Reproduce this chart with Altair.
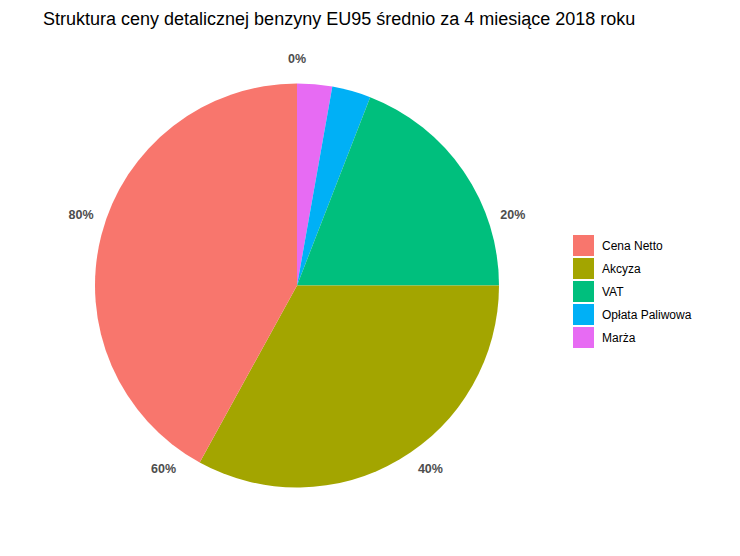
import altair as alt
import pandas as pd

# slice data, clockwise from 12 o'clock
categories = ["Marża", "Opłata Paliwowa", "VAT", "Akcyza", "Cena Netto"]
shares = [2.8, 3.1, 19.1, 33.0, 42.0]

# legend order and colours (ggplot default hue palette)
legend_order = ["Cena Netto", "Akcyza", "VAT", "Opłata Paliwowa", "Marża"]
colors = ["#F8766D", "#A3A500", "#00BF7D", "#00B0F6", "#E76BF3"]

# polar axis ticks
tick_values = [0, 20, 40, 60, 80]
tick_labels = ["0%", "20%", "40%", "60%", "80%"]

title_text = "Struktura ceny detalicznej benzyny EU95 średnio za 4 miesiące 2018 roku"

slices = pd.DataFrame({
    "kategoria": categories,
    "udzial": shares,
    "kolejnosc": list(range(len(categories))),
})
ticks = pd.DataFrame({"wartosc": tick_values, "etykieta": tick_labels})

theta_scale = alt.Scale(domain=[0, 100])

pie = alt.Chart(slices).mark_arc(radius=202, strokeWidth=0).encode(
    theta=alt.Theta("udzial:Q", stack=True, scale=theta_scale),
    color=alt.Color(
        "kategoria:N",
        scale=alt.Scale(domain=legend_order, range=colors),
        sort=legend_order,
        legend=alt.Legend(
            title=None,
            orient="none",
            legendX=565,
            legendY=197,
            symbolType="square",
            symbolSize=441,
            symbolStrokeWidth=0,
            symbolOpacity=1,
            labelFontSize=12,
            labelFont="Liberation Sans",
            labelColor="#000000",
            labelOffset=8,
            rowPadding=2,
            padding=0,
        ),
    ),
    order=alt.Order("kolejnosc:Q"),
)

labels = alt.Chart(ticks).mark_text(
    radius=227,
    font="Liberation Sans",
    fontWeight="bold",
    fontSize=12.5,
    color="#4D4D4D",
    align="center",
    baseline="middle",
).encode(
    theta=alt.Theta("wartosc:Q", scale=theta_scale),
    text="etykieta:N",
)

chart = alt.layer(pie, labels).properties(
    width=578,
    height=495,
    padding={"left": 0, "top": 30, "right": 146, "bottom": 10},
    autosize=alt.AutoSizeParams(type="none"),
    title=alt.TitleParams(
        title_text,
        anchor="start",
        frame="group",
        dx=35,
        dy=23,
        offset=18,
        baseline="alphabetic",
        font="Liberation Sans",
        fontSize=18,
        fontWeight="normal",
        color="#000000",
    ),
).configure_view(stroke=None)

chart.save("out.html", embed_options={"renderer": "svg", "actions": False})
